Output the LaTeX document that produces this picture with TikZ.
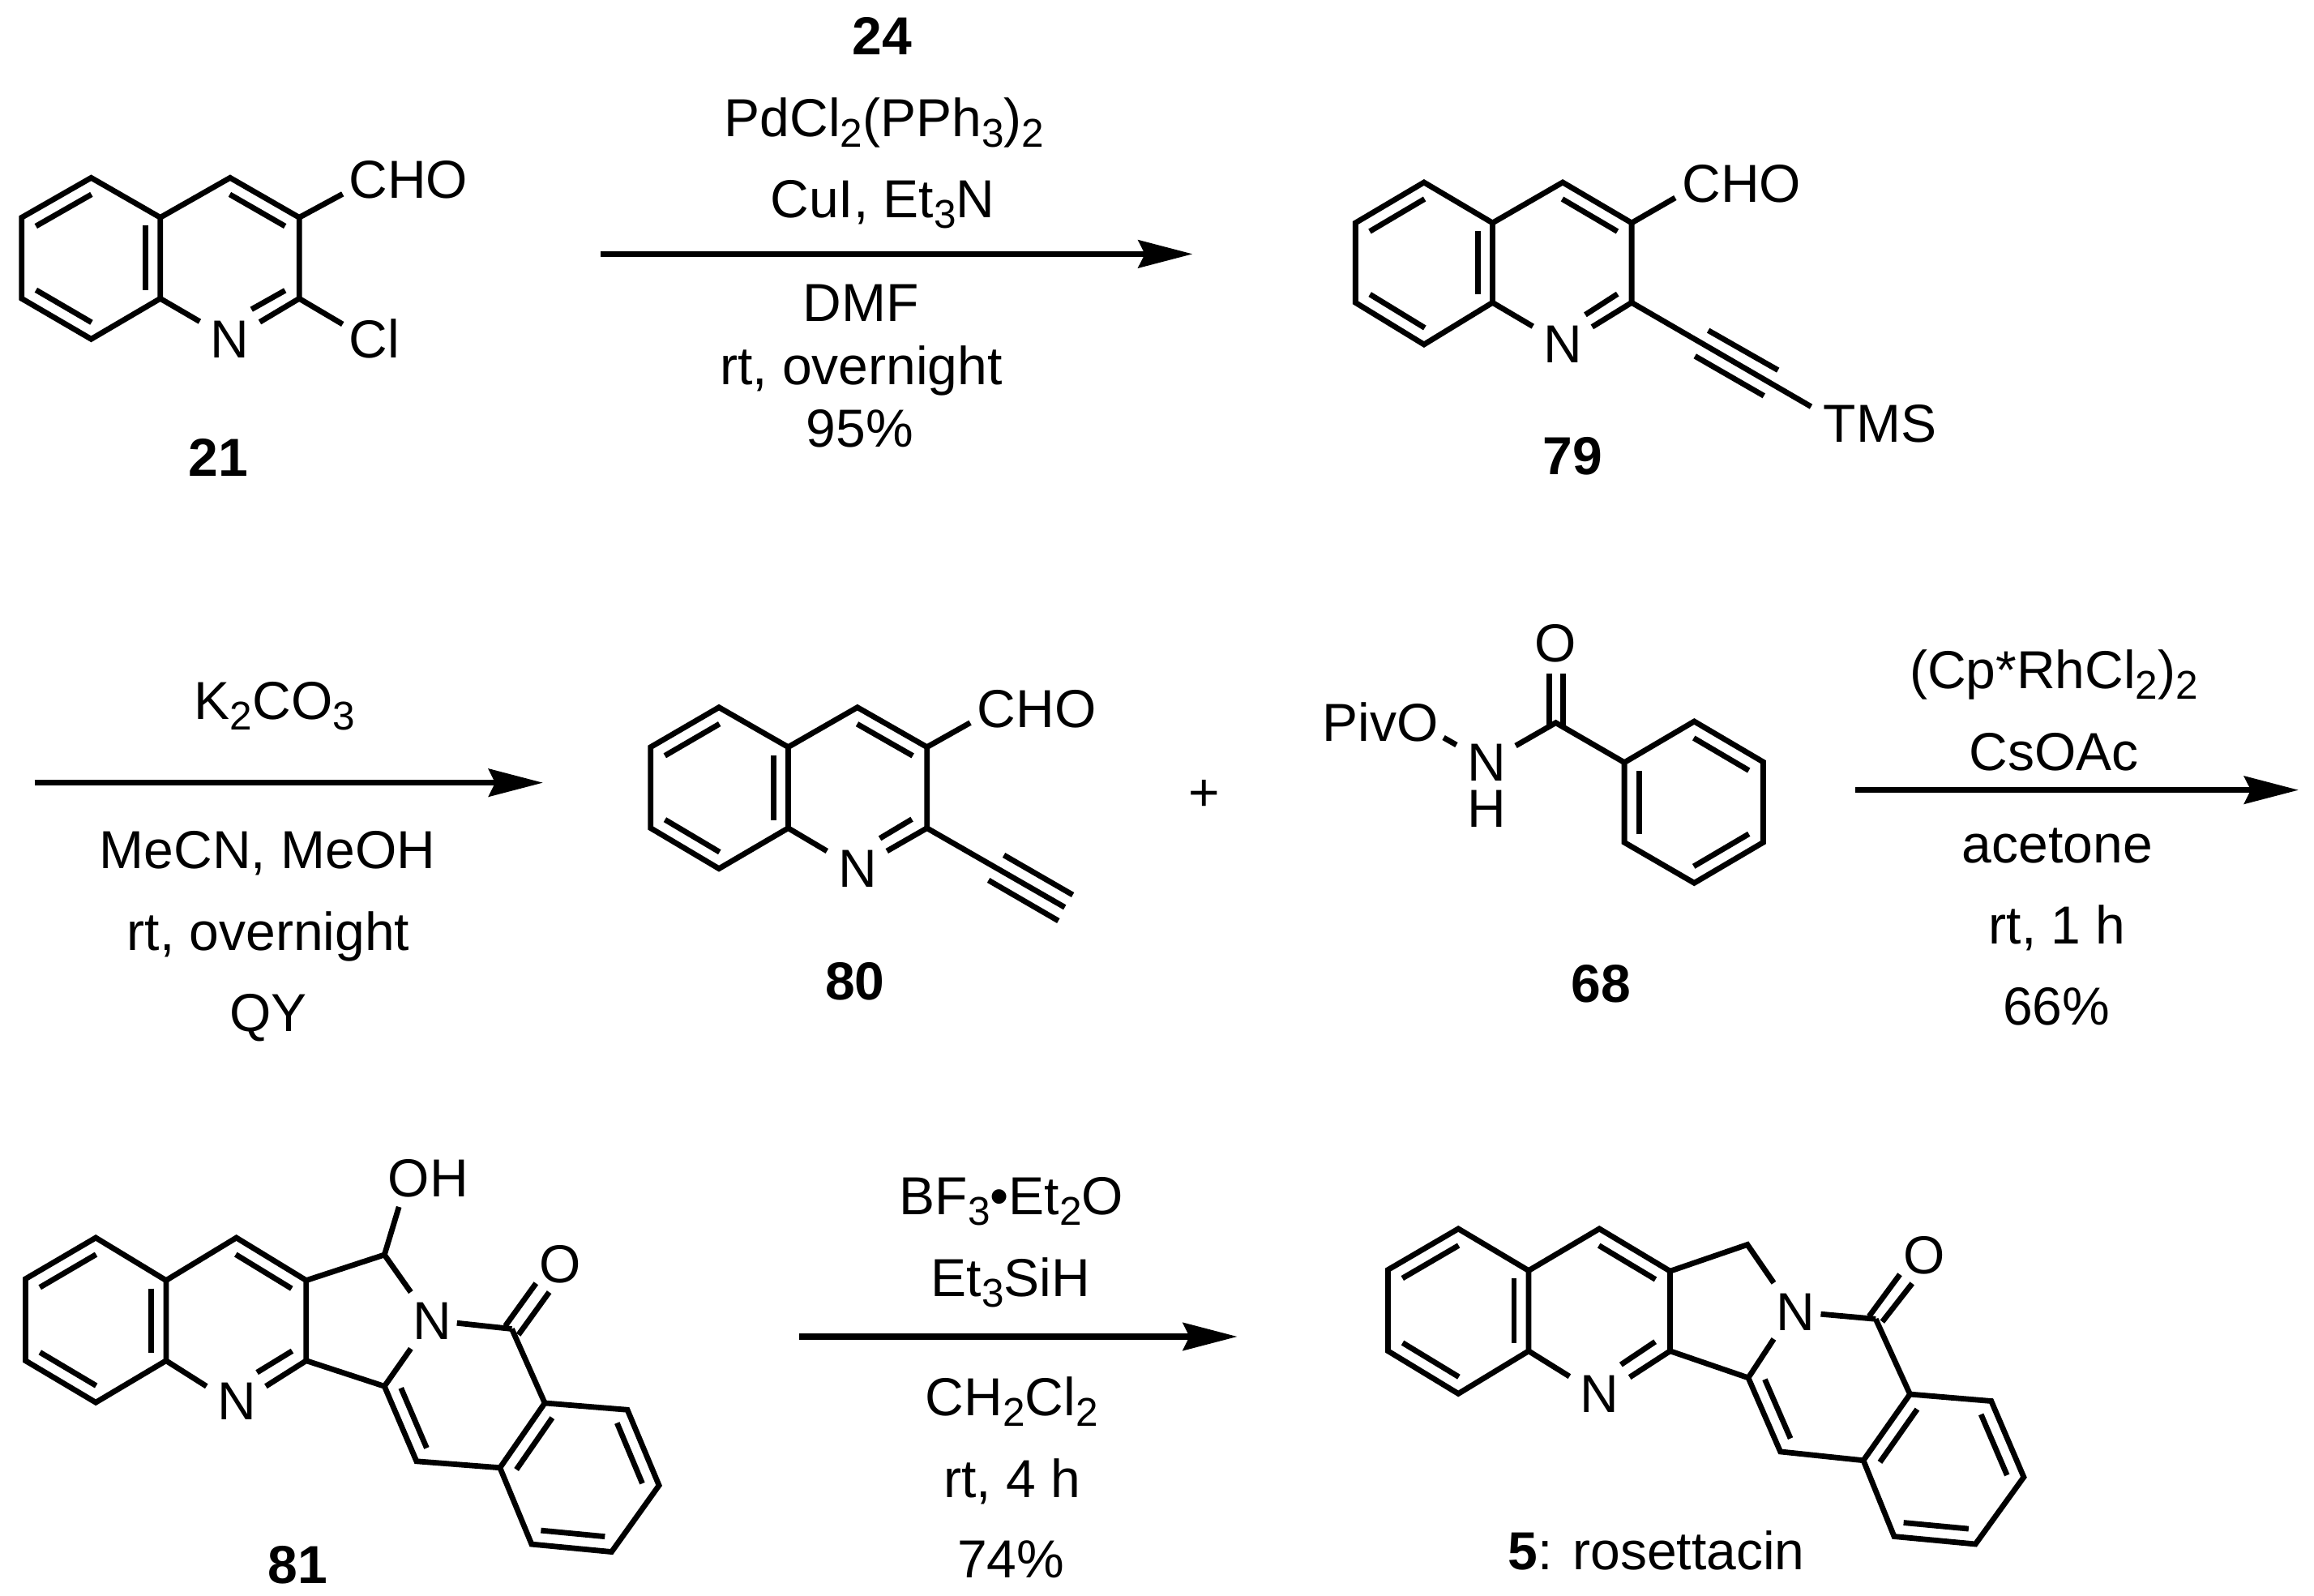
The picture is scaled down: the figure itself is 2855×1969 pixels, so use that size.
\documentclass[tikz,border=0pt]{standalone}
\usepackage{fontspec}
\setmainfont{Liberation Sans}
\usetikzlibrary{calc,arrows.meta}
\newcommand{\chs}[1]{\raisebox{-6.5pt}{\fontsize{24.75}{26}\selectfont #1}}
\newcommand{\inr}[2]{\draw[bond,reset cm] ($(#1)!.1!(#2)!9pt!-90:(#2)$) -- ($(#2)!.1!(#1)!9pt!90:(#1)$);}
\tikzset{
  bond/.style={line width=3.4pt,line join=miter,miter limit=10,black},
  rxn/.style={line width=3.6pt,black,-{Stealth[length=33.5pt,width=17pt,inset=4pt]}},
  txt/.style={inner sep=0pt,outer sep=0pt,anchor=base,font=\fontsize{33}{36}\selectfont,text=black},
  zm/.style n args={4}{shift={(#1,#2)},xscale=1/#3,yscale=1/#4}
}
\begin{document}
\begin{tikzpicture}[x=.5pt,y=-.5pt]
\useasboundingbox (0,0) rectangle (2855,1969);
% ---------- 21
\begin{scope}[zm={0}{150}{2.24}{3}]
\coordinate (a1) at (60,355);\coordinate (a2) at (252,208);\coordinate (a3) at (443,355);
\coordinate (a4) at (443,655);\coordinate (a5) at (252,805);\coordinate (a6) at (60,655);
\coordinate (b1) at (636,208);\coordinate (b2) at (827,355);\coordinate (b3) at (827,655);
\coordinate (s1) at (552,740);\coordinate (s2) at (718,742);\coordinate (s3) at (788,625);\coordinate (s4) at (695,695);
\coordinate (s5) at (947,268);\coordinate (s6) at (947,750);
\draw[bond] (a1)--(a2)--(a3)--(a4)--(a5)--(a6)--cycle;
\draw[bond] (a3)--(b1)--(b2)--(b3);
\draw[bond] (s1)--(a4); \draw[bond] (s2)--(b3); \draw[bond] (s3)--(s4);
\draw[bond] (b2)--(s5); \draw[bond] (b3)--(s6);
\inr{a1}{a2}\inr{a3}{a4}\inr{a5}{a6}\inr{b1}{b2}
\node[txt] (t21cho) at (1129,285) {CHO};
\node[txt] (t21n) at (634,875) {N};
\node[txt] (t21cl) at (1035,875) {Cl};
\node[txt] (t21) at (603,1312) {\textbf{21}};
\end{scope}
% ---------- reaction 1
\begin{scope}[zm={720}{0}{2}{2.703}]
\coordinate (r1s) at (42,847);\coordinate (r1e) at (1503,847);
\draw[rxn] (r1s)--(r1e);
\node[txt] (c1a) at (736,182) {\textbf{24}};
\node[txt] (c1b) at (742,455) {PdCl\chs{2}(PPh\chs{3})\chs{2}};
\node[txt] (c1c) at (738,727) {CuI, Et\chs{3}N};
\node[txt] (c1d) at (684,1072) {DMF};
\node[txt] (c1e) at (685,1282) {rt, overnight};
\node[txt] (c1f) at (682,1490) {95\%};
\end{scope}
% ---------- 79
\begin{scope}[zm={1640}{180}{2.01}{3}]
\coordinate (a1) at (65,285);\coordinate (a2) at (235,135);\coordinate (a3) at (405,285);
\coordinate (a4) at (405,580);\coordinate (a5) at (235,735);\coordinate (a6) at (65,580);
\coordinate (b1) at (579,135);\coordinate (b2) at (750,285);\coordinate (b3) at (750,580);
\coordinate (s1) at (505,668);\coordinate (s2) at (652,670);\coordinate (s3) at (715,548);\coordinate (s4) at (635,625);
\coordinate (s5) at (858,192);\coordinate (s6) at (1195,965);
\coordinate (s7) at (940,683);\coordinate (s8) at (1113,830);\coordinate (s9) at (907,778);\coordinate (s10) at (1078,925);
\draw[bond] (a1)--(a2)--(a3)--(a4)--(a5)--(a6)--cycle;
\draw[bond] (a3)--(b1)--(b2)--(b3);
\draw[bond] (s1)--(a4); \draw[bond] (s2)--(b3); \draw[bond] (s3)--(s4);
\draw[bond] (b2)--(s5); \draw[bond] (b3)--(s6); \draw[bond] (s7)--(s8); \draw[bond] (s9)--(s10);
\inr{a1}{a2}\inr{a3}{a4}\inr{a5}{a6}\inr{b1}{b2}
\node[txt] (t79cho) at (1023,210) {CHO};
\node[txt] (t79n) at (579,803) {N};
\node[txt] (t79tms) at (1366,1098) {TMS};
\node[txt] (t79) at (603,1218) {\textbf{79}};
\end{scope}
% ---------- reaction 2
\begin{scope}[zm={20}{800}{2}{3}]
\coordinate (r2s) at (45,497);\coordinate (r2e) at (1300,497);
\draw[rxn] (r2s)--(r2e);
\node[txt] (c2a) at (638,263) {K\chs{2}CO\chs{3}};
\node[txt] (c2b) at (620,815) {MeCN, MeOH};
\node[txt] (c2c) at (622,1117) {rt, overnight};
\node[txt] (c2d) at (622,1417) {QY};
\end{scope}
% ---------- 80
\begin{scope}[zm={770}{800}{2.529}{3}]
\coordinate (a1) at (83,365);\coordinate (a2) at (296,218);\coordinate (a3) at (512,365);
\coordinate (a4) at (512,665);\coordinate (a5) at (296,815);\coordinate (a6) at (83,665);
\coordinate (b1) at (728,218);\coordinate (b2) at (945,365);\coordinate (b3) at (945,665);
\coordinate (s1) at (633,750);\coordinate (s2) at (820,750);\coordinate (s3) at (898,632);\coordinate (s4) at (798,703);
\coordinate (s5) at (1080,275);\coordinate (s6) at (1375,958);
\coordinate (s7) at (1185,765);\coordinate (s8) at (1400,912);\coordinate (s9) at (1137,858);\coordinate (s10) at (1355,1008);
\draw[bond] (a1)--(a2)--(a3)--(a4)--(a5)--(a6)--cycle;
\draw[bond] (a3)--(b1)--(b2)--(b3);
\draw[bond] (s1)--(a4); \draw[bond] (s2)--(b3); \draw[bond] (s3)--(s4);
\draw[bond] (b2)--(s5); \draw[bond] (b3)--(s6); \draw[bond] (s7)--(s8); \draw[bond] (s9)--(s10);
\inr{a1}{a2}\inr{a3}{a4}\inr{a5}{a6}\inr{b1}{b2}
\node[txt] (t80cho) at (1288,292) {CHO};
\node[txt] (t80n) at (728,883) {N};
\node[txt] (t80) at (720,1300) {\textbf{80}};
\end{scope}
% ---------- plus and 68 label
\begin{scope}[zm={1400}{930}{2}{3}]
\node[txt] (plus) at (172,211) {+};
\node[txt] (t68) at (1151,920) {\textbf{68}};
\end{scope}
% ---------- 68
\begin{scope}[zm={1600}{750}{2.529}{3}]
\coordinate (c) at (808,425);
\coordinate (r1) at (1022,572);\coordinate (r2) at (1240,420);\coordinate (r3) at (1455,570);
\coordinate (r4) at (1455,868);\coordinate (r5) at (1240,1018);\coordinate (r6) at (1022,868);
\coordinate (s1) at (683,510);\coordinate (s2) at (458,480);\coordinate (s3) at (498,507);
\coordinate (s4) at (787,243);\coordinate (s5) at (787,438);\coordinate (s6) at (830,243);\coordinate (s7) at (830,438);
\draw[bond] (r1)--(r2)--(r3)--(r4)--(r5)--(r6)--cycle;
\draw[bond] (s1)--(c)--(r1); \draw[bond] (s2)--(s3);
\draw[bond] (s4)--(s5); \draw[bond] (s6)--(s7);
\inr{r2}{r3}\inr{r4}{r5}\inr{r6}{r1}
\node[txt] (t68o) at (808,198) {O};
\node[txt] (t68p) at (261,493) {PivO};
\node[txt] (t68n) at (592,640) {N};
\node[txt] (t68h) at (592,811) {H};
\end{scope}
% ---------- reaction 3
\begin{scope}[zm={2271}{780}{2.685}{3}]
\coordinate (r3s) at (48,584);\coordinate (r3e) at (1517,584);
\draw[rxn] (r3s)--(r3e);
\node[txt] (c3a) at (706,208) {(Cp*RhCl\chs{2})\chs{2}};
\node[txt] (c3b) at (706,510) {CsOAc};
\node[txt] (c3c) at (718,852) {acetone};
\node[txt] (c3d) at (717,1152) {rt, 1 h};
\node[txt] (c3e) at (715,1452) {66\%};
\end{scope}
% ---------- 81
\begin{scope}[zm={0}{1400}{1.845}{2.756}]
\coordinate (a1) at (58,490);\coordinate (a2) at (218,350);\coordinate (a3) at (378,495);
\coordinate (a4) at (378,768);\coordinate (a5) at (218,910);\coordinate (a6) at (58,768);
\coordinate (b1) at (538,350);\coordinate (b2) at (697,495);\coordinate (b3) at (697,768);
\coordinate (c1) at (875,408);\coordinate (c2) at (875,855);\coordinate (c3) at (1165,660);
\coordinate (c4) at (1240,912);\coordinate (c5) at (948,1110);\coordinate (c6) at (1138,1132);
\coordinate (c7) at (1428,935);\coordinate (c8) at (1500,1192);\coordinate (c9) at (1392,1418);\coordinate (c10) at (1210,1392);
\coordinate (s1) at (470,855);\coordinate (s2) at (605,855);\coordinate (s3) at (665,735);\coordinate (s4) at (585,808);
\coordinate (s5) at (908,245);\coordinate (s6) at (935,535);\coordinate (s7) at (935,727);\coordinate (s8) at (1040,640);
\coordinate (s9) at (1150,650);\coordinate (s10) at (1220,505);\coordinate (s11) at (1180,680);\coordinate (s12) at (1250,535);
\draw[bond] (a1)--(a2)--(a3)--(a4)--(a5)--(a6)--cycle;
\draw[bond] (a3)--(b1)--(b2)--(b3)--(c2)--(c5)--(c6)--(c4)--(c3);
\draw[bond] (c6)--(c10)--(c9)--(c8)--(c7)--(c4);
\draw[bond] (b2)--(c1)--(s6); \draw[bond] (c1)--(s5);
\draw[bond] (c2)--(s7); \draw[bond] (s8)--(c3);
\draw[bond] (s9)--(s10); \draw[bond] (s11)--(s12);
\draw[bond] (s1)--(a4); \draw[bond] (s2)--(b3); \draw[bond] (s3)--(s4);
\inr{a1}{a2}\inr{a3}{a4}\inr{a5}{a6}\inr{b1}{b2}
\inr{c5}{c2}\inr{c6}{c4}\inr{c7}{c8}\inr{c9}{c10}
\node[txt] (t81n1) at (540,970) {N};
\node[txt] (t81n2) at (984,695) {N};
\node[txt] (t81oh) at (975,210) {OH};
\node[txt] (t81o) at (1276,503) {O};
\node[txt] (t81) at (678,1525) {\textbf{81}};
\end{scope}
% ---------- reaction 4
\begin{scope}[zm={960}{1420}{2.529}{2.856}]
\coordinate (r4s) at (66,654);\coordinate (r4e) at (1433,654);
\draw[rxn] (r4s)--(r4e);
\node[txt] (c4a) at (728,225) {BF\chs{3}•Et\chs{2}O};
\node[txt] (c4b) at (726,512) {Et\chs{3}SiH};
\node[txt] (c4c) at (729,933) {CH\chs{2}Cl\chs{2}};
\node[txt] (c4d) at (730,1222) {rt, 4 h};
\node[txt] (c4e) at (726,1505) {74\%};
\end{scope}
% ---------- 5
\begin{scope}[zm={1680}{1440}{1.845}{2.964}]
\coordinate (a1) at (60,375);\coordinate (a2) at (220,225);\coordinate (a3) at (380,378);
\coordinate (a4) at (380,672);\coordinate (a5) at (220,828);\coordinate (a6) at (60,672);
\coordinate (b1) at (541,225);\coordinate (b2) at (702,380);\coordinate (b3) at (702,672);
\coordinate (c1) at (878,283);\coordinate (c2) at (880,770);\coordinate (c3) at (1170,555);
\coordinate (c4) at (1248,830);\coordinate (c5) at (953,1040);\coordinate (c6) at (1142,1072);
\coordinate (c7) at (1433,855);\coordinate (c8) at (1507,1133);\coordinate (c9) at (1397,1378);\coordinate (c10) at (1212,1350);
\coordinate (s1) at (473,765);\coordinate (s2) at (610,768);\coordinate (s3) at (668,638);\coordinate (s4) at (590,722);
\coordinate (s6) at (938,423);\coordinate (s7) at (938,628);\coordinate (s8) at (1045,537);
\coordinate (s9) at (1155,545);\coordinate (s10) at (1225,392);\coordinate (s11) at (1185,565);\coordinate (s12) at (1253,425);
\draw[bond] (a1)--(a2)--(a3)--(a4)--(a5)--(a6)--cycle;
\draw[bond] (a3)--(b1)--(b2)--(b3)--(c2)--(c5)--(c6)--(c4)--(c3);
\draw[bond] (c6)--(c10)--(c9)--(c8)--(c7)--(c4);
\draw[bond] (b2)--(c1)--(s6);
\draw[bond] (c2)--(s7); \draw[bond] (s8)--(c3);
\draw[bond] (s9)--(s10); \draw[bond] (s11)--(s12);
\draw[bond] (s1)--(a4); \draw[bond] (s2)--(b3); \draw[bond] (s3)--(s4);
\inr{a1}{a2}\inr{a3}{a4}\inr{a5}{a6}\inr{b1}{b2}
\inr{c5}{c2}\inr{c6}{c4}\inr{c7}{c8}\inr{c9}{c10}
\node[txt] (t5n1) at (541,897) {N};
\node[txt] (t5n2) at (988,597) {N};
\node[txt] (t5o) at (1280,390) {O};
\node[txt] (t5) at (671,1472) {\textbf{5}: rosettacin};
\end{scope}
\end{tikzpicture}
\end{document}
